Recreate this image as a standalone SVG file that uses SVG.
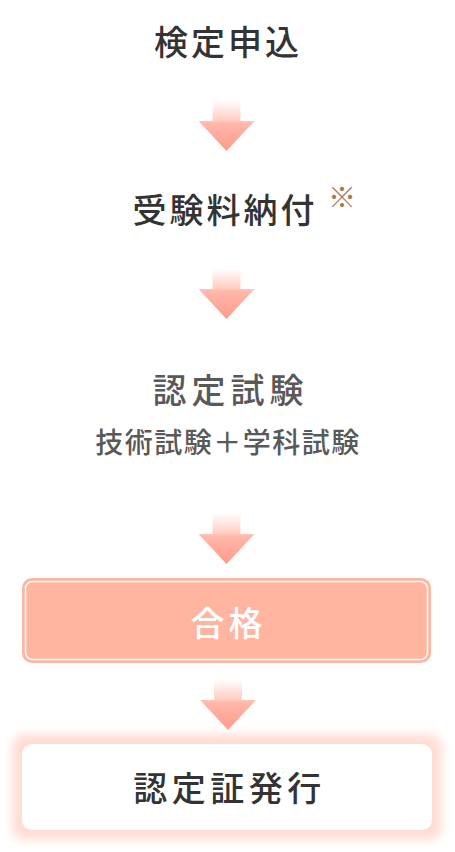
<svg xmlns="http://www.w3.org/2000/svg" width="455" height="852" viewBox="0 0 455 852">
<style>
.t{font-family:"Noto Sans CJK JP","Noto Sans CJK SC",sans-serif;font-size:34px;font-weight:500;text-anchor:middle;}
.dark{fill:#333333;}
.gray{fill:#595959;}
</style>
<defs>
<linearGradient id="ag" x1="0" y1="0" x2="0" y2="1">
<stop offset="0" stop-color="#ffffff"/>
<stop offset="0.4" stop-color="#ffcdc2"/>
<stop offset="0.45" stop-color="#ffb8ab"/>
<stop offset="1" stop-color="#ff9a8b"/>
</linearGradient>
<path id="arrow" d="M-14,0 H14 V21 H28 L0,51 L-28,21 H-14 Z" fill="url(#ag)"/>
<filter id="glow" x="-10%" y="-30%" width="120%" height="160%">
<feGaussianBlur stdDeviation="5"/>
</filter>
</defs>
<rect width="455" height="852" fill="#ffffff"/>

<g id="connectors">
<use href="#arrow" transform="translate(226.5,100)"/>
<use href="#arrow" transform="translate(226.5,268)"/>
<use href="#arrow" transform="translate(226.5,513)"/>
<use href="#arrow" transform="translate(228,679)"/>
</g>

<g id="node-apply">
<text class="t dark" x="228" y="55" letter-spacing="3">検定申込</text>
</g>

<g id="node-fee">
<text class="t dark" x="225" y="223" letter-spacing="3">受験料納付</text>
<text x="342" y="208" font-family="'Noto Sans CJK JP',sans-serif" font-size="28" fill="#a87b58" text-anchor="middle">※</text>
</g>

<g id="node-exam">
<text class="t gray" x="230.5" y="403" letter-spacing="5">認定試験</text>
<text class="t gray" x="228" y="453" style="font-size:28px" letter-spacing="1.5">技術試験＋学科試験</text>
</g>

<g id="node-pass">
<rect x="23" y="579" width="407" height="83" rx="9" fill="#ffb59f" stroke="#ffb59f" stroke-width="2"/>
<rect x="25.5" y="581.5" width="402" height="78" rx="7" fill="none" stroke="#ffffff" stroke-width="1.5"/>
<text class="t" x="228.5" y="636" letter-spacing="4" fill="#ffffff">合格</text>
</g>

<g id="node-cert">
<rect x="12" y="734" width="430" height="106" rx="14" fill="#ffddd3" filter="url(#glow)"/>
<rect x="22" y="744" width="410" height="86" rx="10" fill="#ffffff"/>
<text class="t dark" x="229.5" y="801" letter-spacing="4.5">認定証発行</text>
</g>
</svg>
